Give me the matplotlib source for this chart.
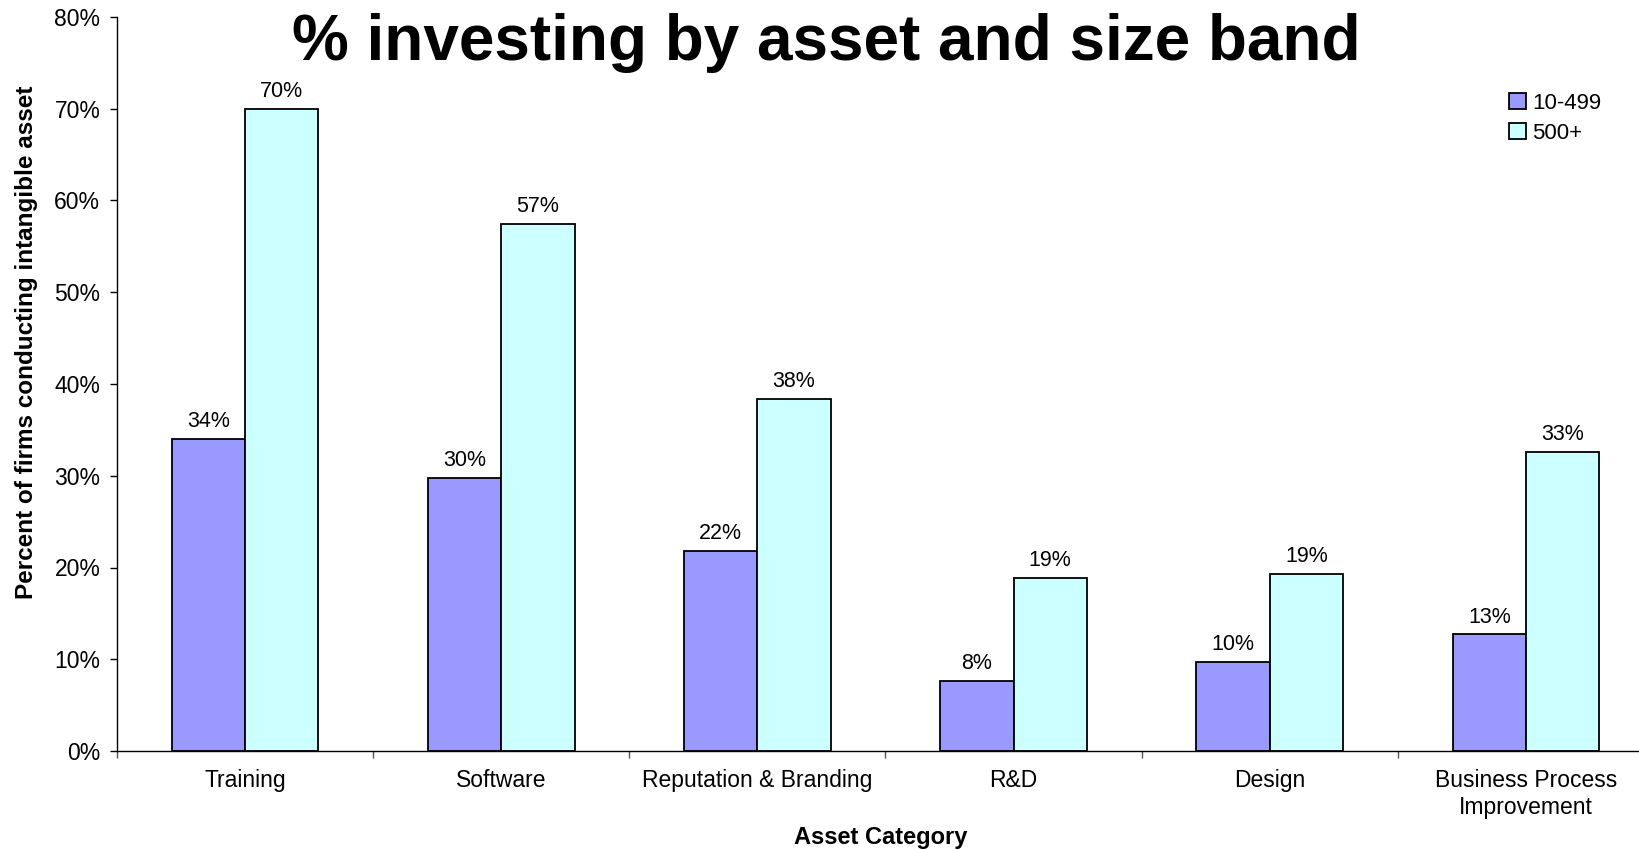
import matplotlib
matplotlib.use("Agg")
import matplotlib.pyplot as plt
import numpy as np

categories = ["Training", "Software", "Reputation & Branding", "R&D", "Design",
              "Business Process\nImprovement"]
small_firms = [34.0, 29.8, 21.8, 7.6, 9.7, 12.7]      # 10-499 employees
large_firms = [70.0, 57.4, 38.4, 18.9, 19.3, 32.6]    # 500+ employees
series_names = ["10-499", "500+"]
colors = ["#9999FF", "#CCFFFF"]

plt.rcParams['font.family'] = ['Liberation Sans', 'DejaVu Sans']

fig = plt.figure(figsize=(16.39, 8.49), dpi=100)
# the plot area runs a little past the right edge of the figure
ax = fig.add_axes([117 / 1639, 1 - 751 / 849, 1537 / 1639, 734 / 849])

x = np.arange(len(categories))
w = 0.286
for i, vals in enumerate([small_firms, large_firms]):
    pos = x + (i - 0.5) * w
    ax.bar(pos, vals, w, color=colors[i], edgecolor='black',
           linewidth=1.3, label=series_names[i])
    for xi, v in zip(pos, vals):
        ax.annotate(f"{v:.0f}%", (xi, v), xytext=(0, 5), textcoords='offset points',
                    ha='center', va='bottom', fontsize=15.5)

ax.set_ylim(0, 80)
ax.set_xlim(-0.5, len(categories) - 0.5)
ax.set_yticks(range(0, 81, 10))
ax.set_yticklabels([f"{t}%" for t in range(0, 81, 10)])
ax.tick_params(axis='y', direction='out', length=5, width=1, labelsize=16.5, pad=7)

# boundary ticks between groups, labels at group centres
ax.set_xticks(np.arange(-0.5, len(categories), 1.0))
ax.set_xticklabels([])
ax.set_xticks(x, minor=True)
ax.set_xticklabels(categories, minor=True, fontsize=16.5)
ax.tick_params(axis='x', which='major', direction='out', length=5, width=1, color='#555555')
ax.tick_params(axis='x', which='minor', length=0, pad=13)

for s in ['top', 'right']:
    ax.spines[s].set_visible(False)
ax.spines['left'].set_linewidth(1)
ax.spines['bottom'].set_linewidth(1)

ax.set_ylabel("Percent of firms conducting intangible asset", fontsize=17.5, fontweight='bold')
ax.yaxis.set_label_coords(-0.0515, 0.557)
ax.set_xlabel("Asset Category", fontsize=17, fontweight='bold')
ax.xaxis.set_label_coords(0.497, -0.102)

fig.text(0.504, 1 - 60 / 849, "% investing by asset and size band", fontsize=46,
         fontweight='bold', ha='center', va='baseline')

ax.legend(loc='upper left', bbox_to_anchor=(1500 / 1639, 1 - 84 / 849),
          bbox_transform=fig.transFigure, frameon=False, fontsize=16,
          handlelength=0.75, handleheight=0.75, handletextpad=0.3, labelspacing=0.4,
          borderaxespad=0)

fig.savefig("out.png", dpi=100)
